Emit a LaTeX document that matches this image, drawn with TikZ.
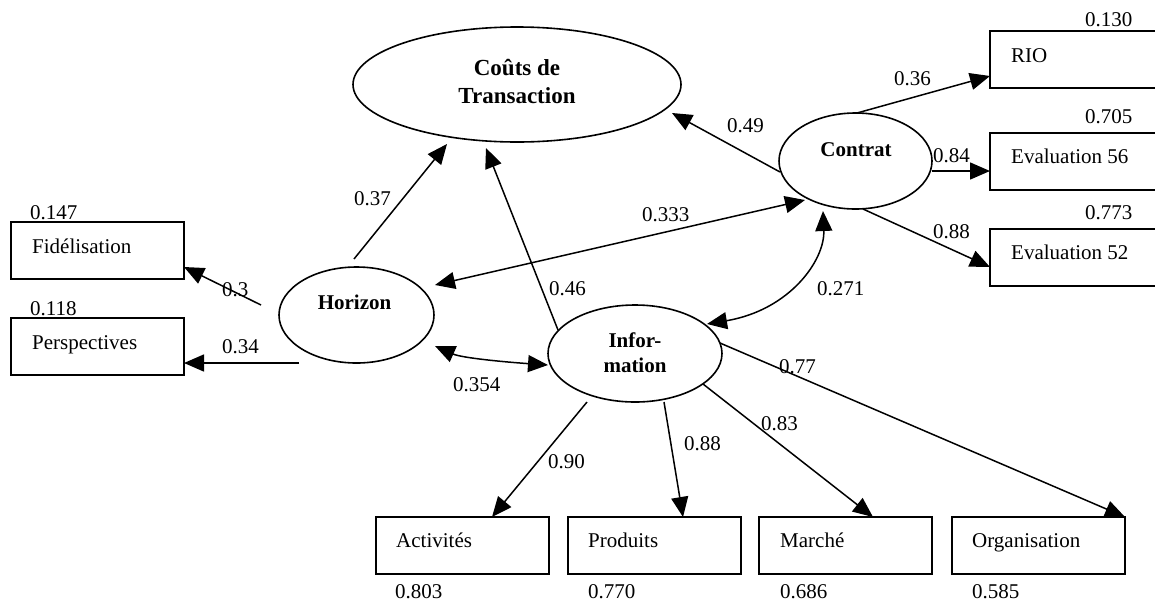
\documentclass[tikz,border=0pt]{standalone}
\usepackage{fontspec}
\setmainfont{Liberation Serif}
\usetikzlibrary{arrows.meta,shapes.geometric}
\begin{document}
\begin{tikzpicture}[x=1pt,y=-1pt,
  lat/.style={draw, ellipse, line width=1.6pt, inner sep=0pt, outer sep=0pt},
  obs/.style={draw, rectangle, line width=1.6pt, inner sep=0pt, outer sep=0pt, anchor=north west,
              minimum width=173pt, minimum height=57pt},
  txt/.style={font=\fontsize{21}{25}\selectfont, inner sep=0pt, anchor=base west},
  btxt/.style={font=\fontsize{21}{25}\selectfont\bfseries, inner sep=0pt, anchor=base},
  arr/.style={line width=1.5pt, -{Triangle[length=20pt,width=17pt]}},
  darr/.style={line width=1.5pt, {Triangle[length=20pt,width=17pt]}-{Triangle[length=20pt,width=17pt]}},
]
\clip (0,0) rectangle (1155,603);
\fill[white] (0,0) rectangle (1155,603);

% latent variables
\node[lat, minimum width=328pt, minimum height=115pt] (ct) at (517,84.5) {};
\node[btxt, font=\fontsize{23}{28}\selectfont\bfseries] (ct1) at (517,75) {Coûts de};
\node[btxt, font=\fontsize{23}{28}\selectfont\bfseries] (ct2) at (517,103) {Transaction};
\node[lat, minimum width=155pt, minimum height=96pt] (hor) at (356.5,315) {};
\node[btxt] (horT) at (354.5,309) {Horizon};
\node[lat, minimum width=153pt, minimum height=96pt] (con) at (855.5,161) {};
\node[btxt] (conT) at (856,156) {Contrat};
\node[lat, minimum width=174pt, minimum height=97pt] (inf) at (635,353.5) {};
\node[btxt] (infT1) at (635,347) {Infor-};
\node[btxt] (infT2) at (635,372) {mation};

% observed variables
\node[obs] (fid) at (11,222) {};
\node[txt] at (32,253) {Fidélisation};
\node[txt] at (30,219) {0.147};
\node[obs] (per) at (11,318) {};
\node[txt] at (32,349) {Perspectives};
\node[txt] at (30,315) {0.118};

\node[obs] (rio) at (990,31) {};
\node[txt] at (1011,62) {RIO};
\node[txt] at (1085,26) {0.130};
\node[obs] (e56) at (990,133) {};
\node[txt] at (1011,163) {Evaluation 56};
\node[txt] at (1085,123) {0.705};
\node[obs] (e52) at (990,229) {};
\node[txt] at (1011,259) {Evaluation 52};
\node[txt] at (1085,219) {0.773};

\node[obs] (act) at (376,517) {};
\node[txt] at (396,547) {Activités};
\node[txt] at (395,598) {0.803};
\node[obs] (pro) at (568,517) {};
\node[txt] at (588,547) {Produits};
\node[txt] at (588,598) {0.770};
\node[obs] (mar) at (759,517) {};
\node[txt] at (780,547) {Marché};
\node[txt] at (780,598) {0.686};
\node[obs] (org) at (952,517) {};
\node[txt] at (972,547) {Organisation};
\node[txt] at (972,598) {0.585};

% connector end points
\coordinate (hF) at (261,305);   \coordinate (fE) at (184,267);
\coordinate (hP) at (299,363);   \coordinate (pE) at (184,363);
\coordinate (hC) at (354,259);   \coordinate (cH) at (447,144);
\coordinate (iC) at (558,330);   \coordinate (cI) at (486,148);
\coordinate (kC) at (780,172);   \coordinate (cK) at (672,113);
\coordinate (kH) at (805,200);   \coordinate (hK) at (435,285);
\coordinate (kI) at (823,211);   \coordinate (iK) at (707,324);
\coordinate (hI) at (435,346);   \coordinate (iH) at (548,365);
\coordinate (kR) at (857,113);   \coordinate (rE) at (990,76);
\coordinate (k5) at (932,171);   \coordinate (e5) at (990,171);
\coordinate (k2) at (863,209);   \coordinate (e2) at (990,267);
\coordinate (iA) at (587,402);   \coordinate (aE) at (492,517);
\coordinate (iP) at (664,402);   \coordinate (pT) at (683,517);
\coordinate (iM) at (703,384);   \coordinate (mE) at (873,517);
\coordinate (iO) at (720,343);   \coordinate (oE) at (1125,517);

% connectors
\draw[arr] (hF) -- (fE);
\draw[arr] (hP) -- (pE);
\draw[arr] (hC) -- (cH);
\draw[arr] (iC) -- (cI);
\draw[arr] (kC) -- (cK);
\draw[darr] (hK) -- (kH);
\draw[darr] (iK) .. controls (790,310) and (825,260) .. (kI);
\draw[darr] (hI) .. controls (462,358) and (505,362) .. (iH);
\draw[arr] (kR) -- (rE);
\draw[arr] (k5) -- (e5);
\draw[arr] (k2) -- (e2);
\draw[arr] (iA) -- (aE);
\draw[arr] (iP) -- (pT);
\draw[arr] (iM) -- (mE);
\draw[arr] (iO) -- (oE);

% coefficients
\node[txt] at (222,296) {0.3};
\node[txt] at (222,353) {0.34};
\node[txt] at (354,205) {0.37};
\node[txt] at (549,295) {0.46};
\node[txt] at (727,132) {0.49};
\node[txt] at (642,221) {0.333};
\node[txt] at (894,85) {0.36};
\node[txt] at (933,162) {0.84};
\node[txt] at (933,238) {0.88};
\node[txt] at (817,295) {0.271};
\node[txt] at (453,391) {0.354};
\node[txt] at (779,373) {0.77};
\node[txt] at (761,430) {0.83};
\node[txt] at (684,450) {0.88};
\node[txt] at (548,468) {0.90};
\end{tikzpicture}
\end{document}
